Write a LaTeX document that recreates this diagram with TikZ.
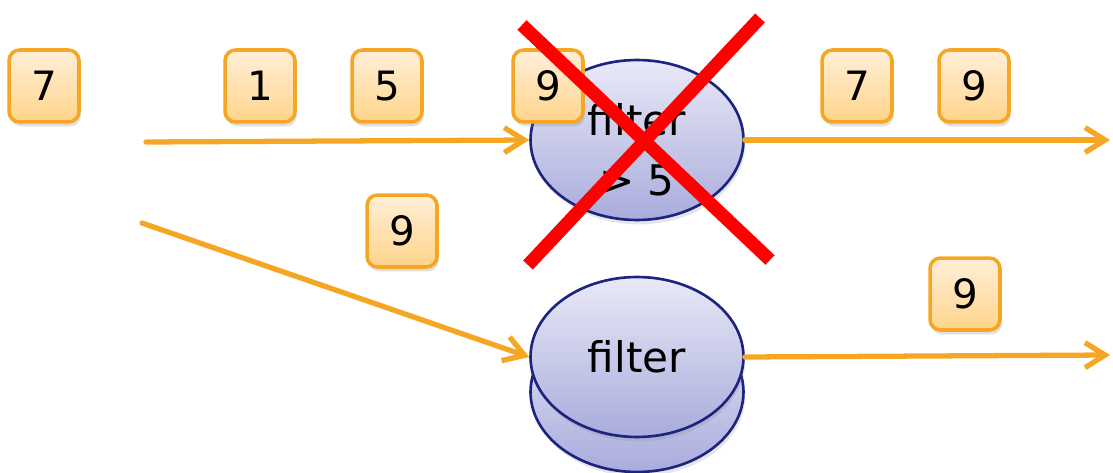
\documentclass[tikz,border=0pt]{standalone}
\usepackage{fontspec}
\setmainfont{DejaVu Sans}
\usetikzlibrary{arrows.meta,shapes.geometric,shadows}
\definecolor{flowor}{HTML}{F5A623}
\definecolor{itemtop}{HTML}{FFEFD9}
\definecolor{itembot}{HTML}{FFD48A}
\definecolor{filtline}{HTML}{1B2580}
\definecolor{filttop}{HTML}{E9E9F7}
\definecolor{filtbot}{HTML}{A9ACDC}
\tikzset{
    item/.style={rectangle,draw=flowor,line width=2pt,rounded corners=6pt,
        minimum width=1.4cm,minimum height=1.44cm,inner sep=0pt,
        top color=itemtop,bottom color=itembot,
        font=\fontsize{23}{26}\selectfont,
        drop shadow={opacity=0.25,shadow xshift=1pt,shadow yshift=-2.5pt}},
    filter/.style={ellipse,draw=filtline,line width=1.5pt,
        minimum width=4.26cm,minimum height=3.2cm,inner sep=0pt,
        top color=filttop,bottom color=filtbot,
        font=\fontsize{24}{34}\selectfont,align=center,
        drop shadow={opacity=0.2,shadow xshift=1pt,shadow yshift=-2.5pt}},
    flow/.style={-{Straight Barb[length=0.4cm,width=0.5cm]},draw=flowor,
        line width=3pt,line cap=round,line join=round},
    cross/.style={draw=red,line width=7.5pt},
}
\begin{document}
\begin{tikzpicture}[x=0.02cm,y=-0.02cm]
    \useasboundingbox (0,0) rectangle (1113,473);
    % filters
    \node[filter] (f1) at (637,140) {};
    \node[font=\fontsize{24}{34}\selectfont,align=center] (f1txt) at (637,150) {filter\\> 5};
    \node[filter] (f2low) at (637,392) {};
    \node[filter] (f2) at (637,357) {filter};
    % items
    \node[item] (i1) at (44,86) {7};
    \node[item] (i2) at (260,86) {1};
    \node[item] (i3) at (387,86) {5};
    \node[item] (i4) at (548,86) {9};
    \node[item] (o1) at (857,86) {7};
    \node[item] (o2) at (974,86) {9};
    \node[item] (i5) at (402,231) {9};
    \node[item] (o3) at (965,294) {9};
    % streams
    \coordinate (inA) at (146,142);
    \coordinate (inB) at (142,223);
    \coordinate (outA) at (1110,140);
    \coordinate (outB) at (1110,355);
    \draw[flow] (inA) -- (f1.west);
    \draw[flow] (f1.east) -- (outA);
    \draw[flow] (inB) -- (f2.west);
    \draw[flow] (f2.east) -- (outB);
    % crossed out
    \draw[cross] (522,25) -- (770,260);
    \draw[cross] (760,18) -- (528,265);
\end{tikzpicture}
\end{document}
